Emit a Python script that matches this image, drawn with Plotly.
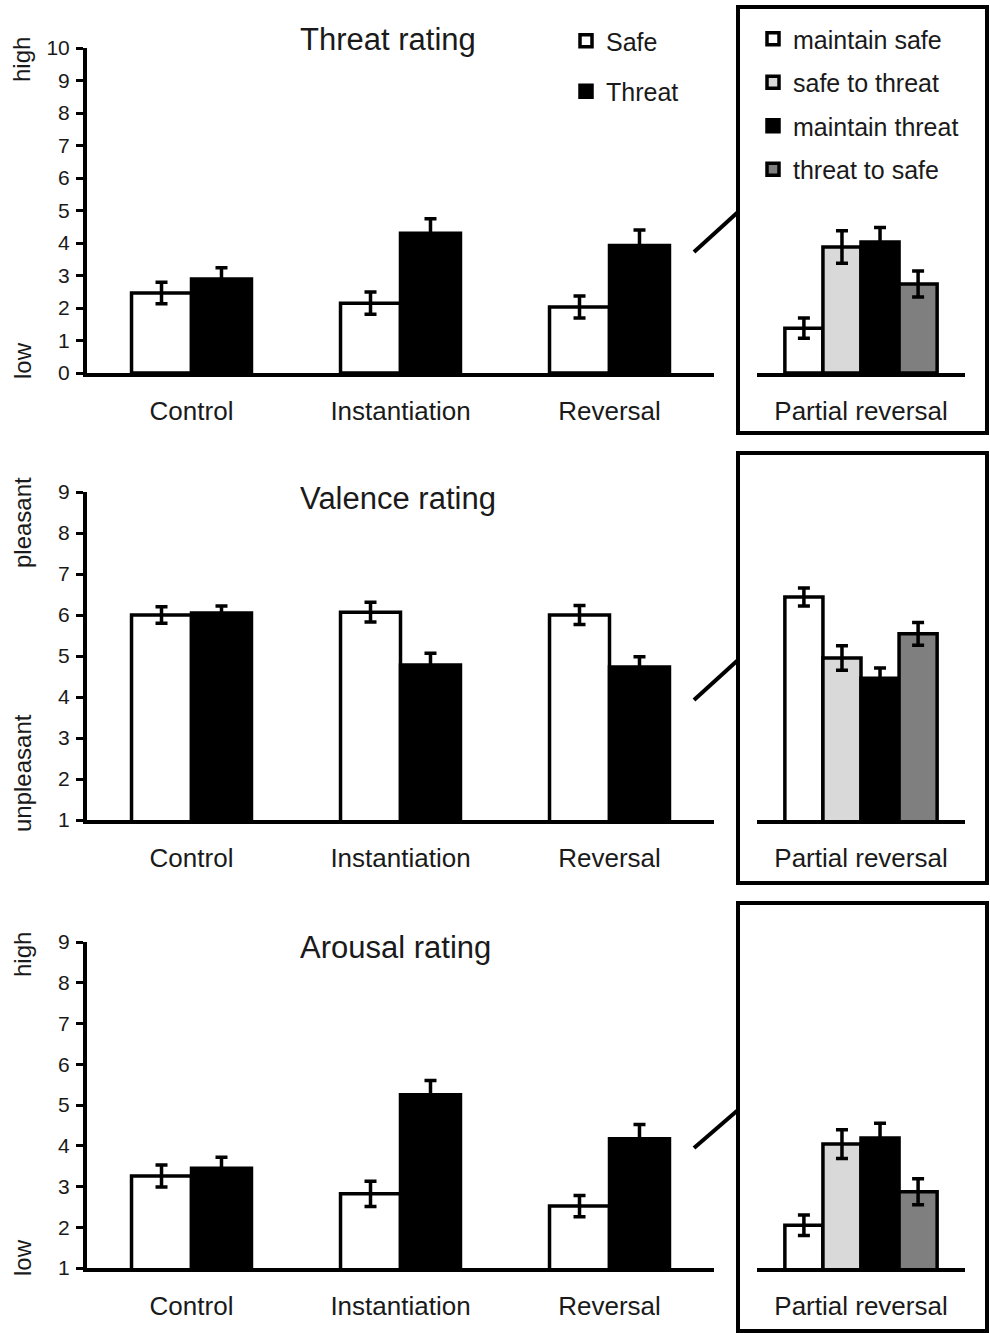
import plotly.graph_objects as go

# ---------------- data ----------------
categories = ["Control", "Instantiation", "Reversal"]
partial_category = ["Partial reversal"]
partial_conditions = ["maintain safe", "safe to threat", "maintain threat", "threat to safe"]

threat_safe = [2.46, 2.15, 2.03]
threat_safe_err = [0.33, 0.34, 0.34]
threat_threat = [2.89, 4.30, 3.92]
threat_threat_err = [0.35, 0.45, 0.48]

valence_safe = [6.00, 6.07, 6.00]
valence_safe_err = [0.20, 0.24, 0.23]
valence_threat = [6.05, 4.78, 4.73]
valence_threat_err = [0.17, 0.29, 0.25]

arousal_safe = [3.26, 2.82, 2.52]
arousal_safe_err = [0.27, 0.31, 0.26]
arousal_threat = [3.45, 5.25, 4.17]
arousal_threat_err = [0.27, 0.35, 0.35]

partial_threat = [1.38, 3.88, 4.03, 2.74]
partial_threat_err = [0.31, 0.50, 0.45, 0.40]
partial_valence = [6.44, 4.95, 4.46, 5.54]
partial_valence_err = [0.22, 0.30, 0.25, 0.28]
partial_arousal = [2.05, 4.04, 4.19, 2.87]
partial_arousal_err = [0.25, 0.35, 0.36, 0.32]

panel_titles = ["Threat rating", "Valence rating", "Arousal rating"]
y_ranges = [[0, 10], [1, 9], [1, 9]]
y_top_labels = ["high", "pleasant", "high"]
y_bottom_labels = ["low", "unpleasant", "low"]

# ---------------- styling ----------------
W, H = 990, 1333
FONT = "Liberation Sans, Arial, sans-serif"
TXT = "#1a1a1a"
partial_colors = ["#ffffff", "#d9d9d9", "#000000", "#7f7f7f"]


def px(x):
    return x / W


def py(y):
    return 1 - y / H


# pixel geometry of each panel: (axis top y, axis bottom y)
panel_y = [(48, 373), (492, 820), (942, 1268)]
main_x = (87, 714)
inset_x = (757, 965)
boxes = [(7, 433), (453, 883), (903, 1331)]
connectors = [((694, 252), (738, 212)), ((694, 700), (738, 660)), ((694, 1148), (738, 1110))]
title_pos = [(388, 40), (398, 498), (395, 947)]
top_label_y = [60, 523, 955]
bottom_label_y = [361, 773, 1258]

main_data = [
    (threat_safe, threat_safe_err, threat_threat, threat_threat_err),
    (valence_safe, valence_safe_err, valence_threat, valence_threat_err),
    (arousal_safe, arousal_safe_err, arousal_threat, arousal_threat_err),
]
partial_data = [
    (partial_threat, partial_threat_err),
    (partial_valence, partial_valence_err),
    (partial_arousal, partial_arousal_err),
]

fig = go.Figure()
main_w = 0.287
inset_w = 0.183
err_style = dict(type="data", color="black", thickness=3.5, width=6)

for p in range(3):
    xa_main = "x" if p == 0 else f"x{2 * p + 1}"
    xa_inset = f"x{2 * p + 2}"
    ya = "y" if p == 0 else f"y{p + 1}"
    s, se, t, te = main_data[p]
    show = p == 0
    fig.add_trace(go.Bar(
        x=categories, y=s, xaxis=xa_main, yaxis=ya, name="Safe",
        width=main_w, offset=-main_w,
        marker=dict(color="white", line=dict(color="black", width=3.5)),
        error_y=dict(array=se, **err_style),
        showlegend=show, legend="legend", legendgroup="safe",
    ))
    fig.add_trace(go.Bar(
        x=categories, y=t, xaxis=xa_main, yaxis=ya, name="Threat",
        width=main_w, offset=0,
        marker=dict(color="black", line=dict(color="black", width=3.5)),
        error_y=dict(array=te, **err_style),
        showlegend=show, legend="legend", legendgroup="threat",
    ))
    vals, errs = partial_data[p]
    for i, cond in enumerate(partial_conditions):
        fig.add_trace(go.Bar(
            x=partial_category, y=[vals[i]], xaxis=xa_inset, yaxis=ya, name=cond,
            width=inset_w, offset=-2 * inset_w + i * inset_w,
            marker=dict(color=partial_colors[i], line=dict(color="black", width=3.5)),
            error_y=dict(array=[errs[i]], **err_style),
            showlegend=show, legend="legend2", legendgroup=f"p{i}",
        ))

layout = dict(
    width=W, height=H,
    margin=dict(l=0, r=0, t=0, b=0, autoexpand=False),
    paper_bgcolor="white", plot_bgcolor="rgba(0,0,0,0)",
    font=dict(family=FONT, color=TXT),
    barmode="overlay",
    showlegend=True,
)

for p in range(3):
    top, bot = panel_y[p]
    ykey = "yaxis" if p == 0 else f"yaxis{p + 1}"
    xm_key = "xaxis" if p == 0 else f"xaxis{2 * p + 1}"
    xi_key = f"xaxis{2 * p + 2}"
    yname = "y" if p == 0 else f"y{p + 1}"
    xm_name = "x" if p == 0 else f"x{2 * p + 1}"
    lo, hi = y_ranges[p]
    layout[ykey] = dict(
        domain=[py(bot), py(top)], range=[lo, hi], anchor=xm_name,
        tickmode="linear", tick0=lo, dtick=1,
        ticks="outside", ticklen=7, tickwidth=3, tickcolor="black",
        showline=True, linewidth=4, linecolor="black",
        showgrid=False, zeroline=False, automargin=False,
        tickfont=dict(size=21, color=TXT), ticklabelstandoff=2,
        fixedrange=True,
    )
    layout[xm_key] = dict(
        domain=[px(main_x[0]), px(main_x[1])], range=[-0.5, 2.5], anchor=yname,
        type="category", categoryorder="array", categoryarray=categories,
        showline=True, linewidth=4, linecolor="black",
        ticks="", showgrid=False, zeroline=False, automargin=False,
        tickfont=dict(size=26, color=TXT), ticklabelstandoff=12,
    )
    layout[xi_key] = dict(
        domain=[px(inset_x[0]), px(inset_x[1])], range=[-0.5, 0.5], anchor=yname,
        type="category", categoryorder="array", categoryarray=partial_category,
        showline=True, linewidth=4, linecolor="black",
        ticks="", showgrid=False, zeroline=False, automargin=False,
        tickfont=dict(size=26, color=TXT), ticklabelstandoff=12,
    )

layout["legend"] = dict(
    x=px(566), y=py(18), xanchor="left", yanchor="top",
    bgcolor="rgba(0,0,0,0)", font=dict(size=25, color=TXT),
    tracegroupgap=15, itemwidth=30, traceorder="grouped",
)
layout["legend2"] = dict(
    x=px(753), y=py(16), xanchor="left", yanchor="top",
    bgcolor="rgba(0,0,0,0)", font=dict(size=25, color=TXT),
    tracegroupgap=8, itemwidth=30, traceorder="grouped",
)

shapes = []
annotations = []
for p in range(3):
    y0, y1 = boxes[p]
    shapes.append(dict(type="rect", xref="paper", yref="paper",
                       x0=px(738), x1=px(987), y0=py(y1), y1=py(y0),
                       line=dict(color="black", width=4), fillcolor="rgba(0,0,0,0)"))
    (ax, ay), (bx, by) = connectors[p]
    shapes.append(dict(type="line", xref="paper", yref="paper",
                       x0=px(ax), y0=py(ay), x1=px(bx), y1=py(by),
                       line=dict(color="black", width=4)))
    tx, ty = title_pos[p]
    annotations.append(dict(text=panel_titles[p], xref="paper", yref="paper",
                            x=px(tx), y=py(ty), xanchor="center", yanchor="middle",
                            showarrow=False, font=dict(size=31, color=TXT)))
    annotations.append(dict(text=y_top_labels[p], xref="paper", yref="paper",
                            x=px(22), y=py(top_label_y[p]), xanchor="center", yanchor="middle",
                            textangle=-90, showarrow=False, font=dict(size=24, color=TXT)))
    annotations.append(dict(text=y_bottom_labels[p], xref="paper", yref="paper",
                            x=px(22), y=py(bottom_label_y[p]), xanchor="center", yanchor="middle",
                            textangle=-90, showarrow=False, font=dict(size=24, color=TXT)))

layout["shapes"] = shapes
layout["annotations"] = annotations
fig.update_layout(**layout)

fig.write_html(
    "out.html",
    config={"displayModeBar": False},
    post_script="document.body.style.margin='0';document.body.style.overflow='hidden';",
)
